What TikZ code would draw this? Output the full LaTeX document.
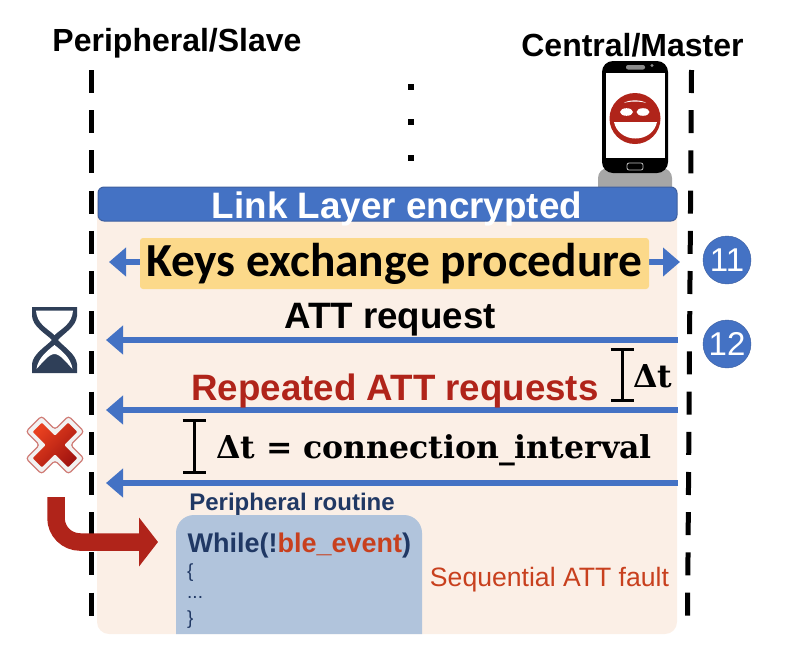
\documentclass[tikz,border=0pt]{standalone}
\usepackage{fontspec}
\setmainfont{Liberation Sans}
\newfontfamily\keysfont{Carlito}
\newfontfamily\deltafont{DejaVu Serif}
\usepackage{xcolor}
\usetikzlibrary{arrows.meta,shapes.geometric}
\definecolor{barblue}{HTML}{4472C4}
\definecolor{barrim}{HTML}{3E5F9E}
\definecolor{panelpeach}{HTML}{FBEFE6}
\definecolor{keysorange}{HTML}{FCD98A}
\definecolor{faultred}{HTML}{B0241A}
\definecolor{eventred}{HTML}{C8401E}
\definecolor{routinenavy}{HTML}{203864}
\definecolor{routinefill}{HTML}{B1C4DC}
\definecolor{glassnavy}{HTML}{2F3F58}
\definecolor{crosslight}{HTML}{E8401F}
\definecolor{crossdark}{HTML}{A31510}
\tikzset{
  lifeline/.style={line width=5pt, dash pattern=on 23pt off 17.2pt},
  arr/.style={-{Triangle[length=17pt,width=28pt]}, line width=6pt, draw=barblue},
  darr/.style={{Triangle[length=17pt,width=28pt]}-{Triangle[length=17pt,width=28pt]}, line width=6pt, draw=barblue},
  bendarr/.style={-{Triangle[length=19pt,width=48pt]}, line width=17.5pt, draw=faultred, rounded corners=24pt},
  interval/.style={line width=3pt, {Bar[width=23pt,line width=3pt]}-{Bar[width=23pt,line width=3pt]}},
  head/.style={inner sep=0pt, font=\fontsize{32}{36}\selectfont\bfseries},
  msg/.style={inner sep=0pt, font=\fontsize{36.7}{40}\selectfont\bfseries},
  delta/.style={inner sep=0pt, font=\deltafont\fontsize{31.5}{36}\selectfont\bfseries},
  stepnum/.style={circle, fill=barblue, draw=barrim, minimum size=48pt, inner sep=0pt,
                  text=white, font=\fontsize{33}{36}\selectfont},
  dotmark/.style={rectangle, fill=black, minimum size=6pt, inner sep=0pt},
  code/.style={inner sep=0pt, anchor=west, text=routinenavy, font=\fontsize{19}{22}\selectfont}
}
\begin{document}
\begin{tikzpicture}[x=1pt,y=-1pt]
  \useasboundingbox (0,0) rectangle (786,662);
  % lifelines
  \coordinate (slavetop) at (91,70);
  \coordinate (slavebot) at (91,632);
  \coordinate (mastertop) at (691.5,70);
  \coordinate (masterbot) at (687.5,625);
  \draw[lifeline] (slavetop)--(slavebot);
  \draw[lifeline] (mastertop)--(masterbot);
  \node[head] (slave) at (177,43) {Peripheral/Slave};
  \node[head] (master) at (632.5,45) {Central/Master};
  \node[dotmark] (dota) at (411,87) {};
  \node[dotmark] (dotb) at (411,122) {};
  \node[dotmark] (dotc) at (411,158) {};

  % phone with masked face
  \fill[black!35, rounded corners=10pt] (598,168) rectangle (672,198);
  \fill[black, rounded corners=11pt] (602,61) rectangle (668,173);
  \fill[white] (605.5,73) rectangle (665,158);
  \fill[black!45, rounded corners=2pt] (626,65) rectangle (645,69.5);
  \fill[black!45] (652,65.5) circle (1.6);
  \draw[white!75!black, line width=0.8pt, rounded corners=2pt] (627,163) rectangle (643,170);
  \fill[faultred] (635,118.5) circle (25.5);
  \fill[white] (624,103) .. controls (628,99.5) and (642,99.5) .. (646,103) .. controls (640,101) and (630,101) .. (624,103) -- cycle;
  \fill[white] (626.5,112) ellipse (6.5 and 3.8);
  \fill[white] (643,112) ellipse (6.5 and 3.8);
  \fill[white] (614,122) -- (657,122) .. controls (655,132) and (646,138.5) .. (635.5,138.5) .. controls (625,138.5) and (616,132) .. (614,122) -- cycle;

  % panel and bar
  \node[rectangle, fill=panelpeach, rounded corners=12pt, minimum width=580pt, minimum height=444pt,
        inner sep=0pt] (panel) at (387,412) {};
  \node[rectangle, fill=barblue, draw=barrim, line width=1pt, rounded corners=6pt, minimum width=579pt,
        minimum height=34pt, inner sep=0pt] (bar) at (387.5,204) {};
  \node[inner sep=0pt, text=white, font=\fontsize{36.8}{40}\selectfont\bfseries] (barlabel) at (397,209) {Link Layer encrypted};

  % keys exchange
  \coordinate (keysl) at (109,262);
  \coordinate (keysr) at (680,262);
  \draw[darr] (keysr)--(keysl);
  \node[rectangle, fill=keysorange, rounded corners=3pt, minimum width=509pt, minimum height=51pt,
        inner sep=0pt, font=\keysfont\fontsize{47.4}{50}\selectfont\bfseries] (keys) at (394.5,263.5) {\raisebox{-2pt}{Keys exchange procedure}};
  \node[stepnum] (numa) at (727,260) {11};
  \node[stepnum] (numb) at (727,344) {12};

  % requests
  \coordinate (reqr) at (678,340);
  \coordinate (reql) at (106,340);
  \coordinate (repr) at (678,410);
  \coordinate (repl) at (106,410);
  \coordinate (lastr) at (678,483);
  \coordinate (lastl) at (106,483);
  \draw[arr] (reqr)--(reql); \draw[arr] (repr)--(repl); \draw[arr] (lastr)--(lastl);
  \node[msg] (req) at (390,320) {ATT request};
  \node[msg, text=faultred] (rep) at (395,391) {Repeated ATT requests};
  \coordinate (gapat) at (622,347.5);
  \coordinate (gapab) at (622,402);
  \coordinate (gapbt) at (194,419);
  \coordinate (gapbb) at (194,474);
  \draw[interval] (gapat)--(gapab);
  \draw[interval] (gapbt)--(gapbb);
  \node[delta] (dta) at (652.5,376) {Δt};
  \node[delta] (dtb) at (434,450) {Δt = connection\_interval};

  % routine
  \node[inner sep=0pt, text=routinenavy, font=\fontsize{24}{28}\selectfont\bfseries] (routine) at (292,504) {Peripheral routine};
  \fill[routinefill] (176,634) [rounded corners=18pt] -- (176,515) -- (422,515) [sharp corners] -- (422,634) -- cycle;
  \node[code, font=\fontsize{27}{30}\selectfont\bfseries] (whileline) at (187.5,546) {While(!\textcolor{eventred}{ble\_event})};
  \node[code] (opening) at (187,573) {\{};
  \node[code] (dots) at (187,597) {...};
  \node[code] (closing) at (187,620) {\}};
  \node[inner sep=0pt, text=eventred, font=\fontsize{26.6}{30}\selectfont] (seqfault) at (549.5,580) {Sequential ATT fault};

  % hourglass
  \fill[glassnavy] (32,307) -- (77,307) -- (77,316) .. controls (76,327) and (64,333) .. (58,340)
    .. controls (64,347) and (76,354) .. (77,364) -- (77,373) -- (32,373) -- (32,364)
    .. controls (33,354) and (45,347) .. (52,340) .. controls (45,333) and (33,327) .. (32,316) -- cycle;
  \fill[white] (36,310.5) -- (73,310.5) .. controls (72,324) and (62,328) .. (54.5,335) .. controls (47,328) and (37,324) .. (36,310.5) -- cycle;
  \fill[white] (54.5,345) .. controls (62,351) and (71,358) .. (72.5,369) .. controls (66,362) and (60,354) .. (54.5,354) .. controls (49,354) and (43,362) .. (36.5,369) .. controls (38,358) and (47,351) .. (54.5,345) -- cycle;

  % red cross
  \begin{scope}[shift={(55,445)},rotate=45]
    \draw[draw=faultred!60, fill=black!5, line width=1.2pt, rounded corners=3pt]
      (-11,-30) -- (11,-30) -- (11,-11) -- (30,-11) -- (30,11) -- (11,11) -- (11,30) -- (-11,30)
      -- (-11,11) -- (-30,11) -- (-30,-11) -- (-11,-11) -- cycle;
    \shade[top color=crosslight, bottom color=crossdark, shading angle=45, rounded corners=1pt]
      (-6.5,-25) -- (6.5,-25) -- (6.5,-6.5) -- (25,-6.5) -- (25,6.5) -- (6.5,6.5) -- (6.5,25) -- (-6.5,25)
      -- (-6.5,6.5) -- (-25,6.5) -- (-25,-6.5) -- (-6.5,-6.5) -- cycle;
  \end{scope}

  % bent arrow into routine
  \coordinate (bendstart) at (56,497);
  \coordinate (bendend) at (158,542);
  \draw[bendarr] (bendstart) |- (bendend);
\end{tikzpicture}
\end{document}
